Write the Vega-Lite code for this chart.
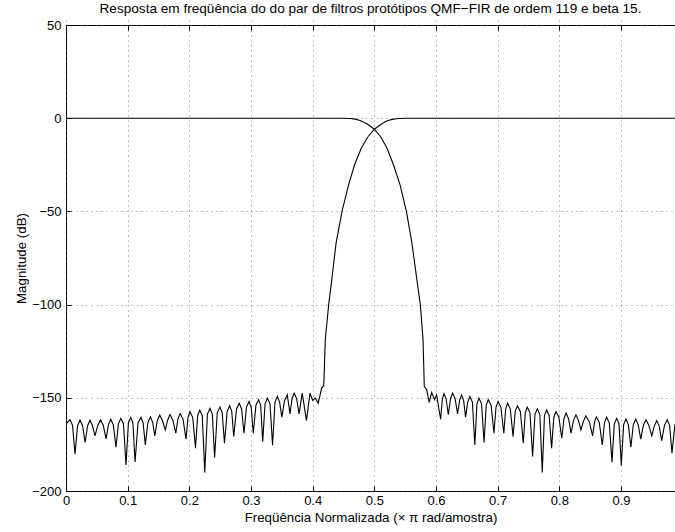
{
  "$schema": "https://vega.github.io/schema/vega-lite/v6.json",
  "autosize": "none",
  "width": 609,
  "height": 466,
  "padding": {"left": 66, "top": 25, "right": 0, "bottom": 41},
  "background": "white",
  "config": {
    "font": "Liberation Sans",
    "view": {"stroke": "black", "strokeWidth": 1},
    "axis": {
      "labelFont": "Liberation Sans",
      "titleFont": "Liberation Sans",
      "labelFontSize": 13,
      "titleFontSize": 13.3,
      "titleFontWeight": "normal",
      "labelColor": "black",
      "titleColor": "black",
      "domain": false,
      "tickColor": "black",
      "tickSize": 5,
      "offset": -5,
      "gridColor": "#555",
      "gridDash": [1, 4],
      "gridOpacity": 0.75
    },
    "title": {"font": "Liberation Sans", "fontSize": 13.6, "fontWeight": "normal", "color": "black"}
  },
  "title": {"text": "Resposta em freqüência do do par de filtros protótipos QMF−FIR de ordem 119 e beta 15.", "anchor": "middle", "offset": 3},
  "datasets": {
    "resp": [
      {"f": 0, "db": 0, "s": "H0"},
      {"f": 0.1, "db": 0, "s": "H0"},
      {"f": 0.2, "db": 0, "s": "H0"},
      {"f": 0.3, "db": 0, "s": "H0"},
      {"f": 0.4, "db": 0, "s": "H0"},
      {"f": 0.45, "db": -0.05, "s": "H0"},
      {"f": 0.461, "db": -0.2, "s": "H0"},
      {"f": 0.469, "db": -0.5, "s": "H0"},
      {"f": 0.477, "db": -1.25, "s": "H0"},
      {"f": 0.488, "db": -3, "s": "H0"},
      {"f": 0.5, "db": -5.9, "s": "H0"},
      {"f": 0.51, "db": -9.8, "s": "H0"},
      {"f": 0.5205, "db": -16, "s": "H0"},
      {"f": 0.531, "db": -25, "s": "H0"},
      {"f": 0.542, "db": -36, "s": "H0"},
      {"f": 0.552, "db": -50, "s": "H0"},
      {"f": 0.561, "db": -67, "s": "H0"},
      {"f": 0.569, "db": -86.6, "s": "H0"},
      {"f": 0.5746, "db": -100, "s": "H0"},
      {"f": 0.579, "db": -118.8, "s": "H0"},
      {"f": 0.581, "db": -143.8, "s": "H0"},
      {"f": 0.585, "db": -145.7, "s": "H0"},
      {"f": 0.589, "db": -152.5, "s": "H0"},
      {"f": 0.593, "db": -147.2, "s": "H0"},
      {"f": 0.5976, "db": -151, "s": "H0"},
      {"f": 0.601, "db": -148.4, "s": "H0"},
      {"f": 0.6075, "db": -161.5, "s": "H0"},
      {"f": 0.6103, "db": -150.8, "s": "H0"},
      {"f": 0.613, "db": -147.8, "s": "H0"},
      {"f": 0.6165, "db": -150.8, "s": "H0"},
      {"f": 0.62, "db": -159.1, "s": "H0"},
      {"f": 0.6235, "db": -150.5, "s": "H0"},
      {"f": 0.627, "db": -147.5, "s": "H0"},
      {"f": 0.631, "db": -150.5, "s": "H0"},
      {"f": 0.635, "db": -158.6, "s": "H0"},
      {"f": 0.6383, "db": -151.4, "s": "H0"},
      {"f": 0.6415, "db": -148.4, "s": "H0"},
      {"f": 0.6448, "db": -151.4, "s": "H0"},
      {"f": 0.648, "db": -160.4, "s": "H0"},
      {"f": 0.6515, "db": -152.3, "s": "H0"},
      {"f": 0.655, "db": -149.3, "s": "H0"},
      {"f": 0.659, "db": -152.3, "s": "H0"},
      {"f": 0.663, "db": -175.3, "s": "H0"},
      {"f": 0.6664, "db": -153.2, "s": "H0"},
      {"f": 0.6697, "db": -150.2, "s": "H0"},
      {"f": 0.6739, "db": -153.2, "s": "H0"},
      {"f": 0.678, "db": -174, "s": "H0"},
      {"f": 0.6814, "db": -154, "s": "H0"},
      {"f": 0.6848, "db": -151, "s": "H0"},
      {"f": 0.6894, "db": -154, "s": "H0"},
      {"f": 0.694, "db": -169, "s": "H0"},
      {"f": 0.6973, "db": -155, "s": "H0"},
      {"f": 0.7005, "db": -152, "s": "H0"},
      {"f": 0.7053, "db": -155, "s": "H0"},
      {"f": 0.71, "db": -169, "s": "H0"},
      {"f": 0.713, "db": -155.9, "s": "H0"},
      {"f": 0.716, "db": -152.9, "s": "H0"},
      {"f": 0.7205, "db": -155.9, "s": "H0"},
      {"f": 0.725, "db": -170.8, "s": "H0"},
      {"f": 0.7285, "db": -157.3, "s": "H0"},
      {"f": 0.732, "db": -154.3, "s": "H0"},
      {"f": 0.7368, "db": -157.3, "s": "H0"},
      {"f": 0.7416, "db": -174.4, "s": "H0"},
      {"f": 0.7448, "db": -158, "s": "H0"},
      {"f": 0.748, "db": -155, "s": "H0"},
      {"f": 0.7524, "db": -158, "s": "H0"},
      {"f": 0.7567, "db": -181.5, "s": "H0"},
      {"f": 0.7605, "db": -158.9, "s": "H0"},
      {"f": 0.7643, "db": -155.9, "s": "H0"},
      {"f": 0.7684, "db": -158.9, "s": "H0"},
      {"f": 0.7724, "db": -190, "s": "H0"},
      {"f": 0.7759, "db": -159.5, "s": "H0"},
      {"f": 0.7794, "db": -156.5, "s": "H0"},
      {"f": 0.7835, "db": -159.5, "s": "H0"},
      {"f": 0.7875, "db": -177, "s": "H0"},
      {"f": 0.7911, "db": -160.4, "s": "H0"},
      {"f": 0.7946, "db": -157.4, "s": "H0"},
      {"f": 0.7993, "db": -160.4, "s": "H0"},
      {"f": 0.804, "db": -171.7, "s": "H0"},
      {"f": 0.8075, "db": -161.2, "s": "H0"},
      {"f": 0.811, "db": -158.2, "s": "H0"},
      {"f": 0.815, "db": -161.2, "s": "H0"},
      {"f": 0.819, "db": -169, "s": "H0"},
      {"f": 0.823, "db": -162.1, "s": "H0"},
      {"f": 0.827, "db": -159.1, "s": "H0"},
      {"f": 0.831, "db": -162.1, "s": "H0"},
      {"f": 0.835, "db": -167.2, "s": "H0"},
      {"f": 0.839, "db": -162.7, "s": "H0"},
      {"f": 0.843, "db": -159.7, "s": "H0"},
      {"f": 0.8485, "db": -162.7, "s": "H0"},
      {"f": 0.854, "db": -170.4, "s": "H0"},
      {"f": 0.857, "db": -163.2, "s": "H0"},
      {"f": 0.86, "db": -160.2, "s": "H0"},
      {"f": 0.8648, "db": -163.2, "s": "H0"},
      {"f": 0.8697, "db": -175.3, "s": "H0"},
      {"f": 0.8732, "db": -163.4, "s": "H0"},
      {"f": 0.8767, "db": -160.4, "s": "H0"},
      {"f": 0.881, "db": -163.4, "s": "H0"},
      {"f": 0.8854, "db": -184.5, "s": "H0"},
      {"f": 0.8892, "db": -164, "s": "H0"},
      {"f": 0.893, "db": -161, "s": "H0"},
      {"f": 0.8968, "db": -164, "s": "H0"},
      {"f": 0.9005, "db": -186.2, "s": "H0"},
      {"f": 0.9043, "db": -164.4, "s": "H0"},
      {"f": 0.908, "db": -161.4, "s": "H0"},
      {"f": 0.912, "db": -164.4, "s": "H0"},
      {"f": 0.916, "db": -176.5, "s": "H0"},
      {"f": 0.92, "db": -164.5, "s": "H0"},
      {"f": 0.924, "db": -161.5, "s": "H0"},
      {"f": 0.928, "db": -164.5, "s": "H0"},
      {"f": 0.932, "db": -172.2, "s": "H0"},
      {"f": 0.9363, "db": -164.8, "s": "H0"},
      {"f": 0.9405, "db": -161.8, "s": "H0"},
      {"f": 0.9453, "db": -164.8, "s": "H0"},
      {"f": 0.95, "db": -170.4, "s": "H0"},
      {"f": 0.954, "db": -165.2, "s": "H0"},
      {"f": 0.958, "db": -162.2, "s": "H0"},
      {"f": 0.962, "db": -165.2, "s": "H0"},
      {"f": 0.966, "db": -173, "s": "H0"},
      {"f": 0.9705, "db": -164.8, "s": "H0"},
      {"f": 0.975, "db": -161.8, "s": "H0"},
      {"f": 0.9789, "db": -164.8, "s": "H0"},
      {"f": 0.9827, "db": -179.7, "s": "H0"},
      {"f": 0.9876, "db": -164, "s": "H0"},
      {"f": 0, "db": -164, "s": "H1"},
      {"f": 0.0065, "db": -161.8, "s": "H1"},
      {"f": 0.0106, "db": -164.8, "s": "H1"},
      {"f": 0.0146, "db": -180.3, "s": "H1"},
      {"f": 0.0187, "db": -165, "s": "H1"},
      {"f": 0.0227, "db": -162, "s": "H1"},
      {"f": 0.0269, "db": -165, "s": "H1"},
      {"f": 0.031, "db": -174, "s": "H1"},
      {"f": 0.035, "db": -165, "s": "H1"},
      {"f": 0.039, "db": -162, "s": "H1"},
      {"f": 0.043, "db": -165, "s": "H1"},
      {"f": 0.047, "db": -170.4, "s": "H1"},
      {"f": 0.0515, "db": -164.8, "s": "H1"},
      {"f": 0.056, "db": -161.8, "s": "H1"},
      {"f": 0.0605, "db": -164.8, "s": "H1"},
      {"f": 0.065, "db": -172, "s": "H1"},
      {"f": 0.0688, "db": -164.5, "s": "H1"},
      {"f": 0.0725, "db": -161.5, "s": "H1"},
      {"f": 0.0768, "db": -164.5, "s": "H1"},
      {"f": 0.081, "db": -176.5, "s": "H1"},
      {"f": 0.085, "db": -164, "s": "H1"},
      {"f": 0.089, "db": -161, "s": "H1"},
      {"f": 0.0932, "db": -164, "s": "H1"},
      {"f": 0.0973, "db": -186, "s": "H1"},
      {"f": 0.1012, "db": -163.5, "s": "H1"},
      {"f": 0.105, "db": -160.5, "s": "H1"},
      {"f": 0.1085, "db": -163.5, "s": "H1"},
      {"f": 0.112, "db": -184.4, "s": "H1"},
      {"f": 0.1168, "db": -163.5, "s": "H1"},
      {"f": 0.1216, "db": -160.5, "s": "H1"},
      {"f": 0.1251, "db": -163.5, "s": "H1"},
      {"f": 0.1286, "db": -175.3, "s": "H1"},
      {"f": 0.1328, "db": -163.2, "s": "H1"},
      {"f": 0.137, "db": -160.2, "s": "H1"},
      {"f": 0.1405, "db": -163.2, "s": "H1"},
      {"f": 0.144, "db": -170.4, "s": "H1"},
      {"f": 0.148, "db": -162.3, "s": "H1"},
      {"f": 0.152, "db": -159.3, "s": "H1"},
      {"f": 0.1565, "db": -162.3, "s": "H1"},
      {"f": 0.161, "db": -167.2, "s": "H1"},
      {"f": 0.1648, "db": -162, "s": "H1"},
      {"f": 0.1686, "db": -159, "s": "H1"},
      {"f": 0.1733, "db": -162, "s": "H1"},
      {"f": 0.178, "db": -169, "s": "H1"},
      {"f": 0.1815, "db": -161.4, "s": "H1"},
      {"f": 0.185, "db": -158.4, "s": "H1"},
      {"f": 0.1898, "db": -161.4, "s": "H1"},
      {"f": 0.1946, "db": -172.2, "s": "H1"},
      {"f": 0.1978, "db": -160.5, "s": "H1"},
      {"f": 0.201, "db": -157.5, "s": "H1"},
      {"f": 0.2055, "db": -160.5, "s": "H1"},
      {"f": 0.21, "db": -177, "s": "H1"},
      {"f": 0.2135, "db": -159.6, "s": "H1"},
      {"f": 0.217, "db": -156.6, "s": "H1"},
      {"f": 0.221, "db": -159.6, "s": "H1"},
      {"f": 0.225, "db": -190, "s": "H1"},
      {"f": 0.2293, "db": -158.7, "s": "H1"},
      {"f": 0.2335, "db": -155.7, "s": "H1"},
      {"f": 0.2373, "db": -158.7, "s": "H1"},
      {"f": 0.241, "db": -182, "s": "H1"},
      {"f": 0.2453, "db": -158, "s": "H1"},
      {"f": 0.2497, "db": -155, "s": "H1"},
      {"f": 0.2533, "db": -158, "s": "H1"},
      {"f": 0.257, "db": -174.4, "s": "H1"},
      {"f": 0.2613, "db": -157.3, "s": "H1"},
      {"f": 0.2655, "db": -154.3, "s": "H1"},
      {"f": 0.2688, "db": -157.3, "s": "H1"},
      {"f": 0.272, "db": -170.8, "s": "H1"},
      {"f": 0.2765, "db": -156, "s": "H1"},
      {"f": 0.281, "db": -153, "s": "H1"},
      {"f": 0.2848, "db": -156, "s": "H1"},
      {"f": 0.2886, "db": -169, "s": "H1"},
      {"f": 0.2927, "db": -155, "s": "H1"},
      {"f": 0.2968, "db": -152, "s": "H1"},
      {"f": 0.3003, "db": -155, "s": "H1"},
      {"f": 0.3037, "db": -169, "s": "H1"},
      {"f": 0.308, "db": -154, "s": "H1"},
      {"f": 0.3124, "db": -151, "s": "H1"},
      {"f": 0.3157, "db": -154, "s": "H1"},
      {"f": 0.319, "db": -173.5, "s": "H1"},
      {"f": 0.3228, "db": -153.2, "s": "H1"},
      {"f": 0.3265, "db": -150.2, "s": "H1"},
      {"f": 0.3308, "db": -153.2, "s": "H1"},
      {"f": 0.335, "db": -175.4, "s": "H1"},
      {"f": 0.3389, "db": -152.3, "s": "H1"},
      {"f": 0.3427, "db": -149.3, "s": "H1"},
      {"f": 0.3464, "db": -152.3, "s": "H1"},
      {"f": 0.35, "db": -160.4, "s": "H1"},
      {"f": 0.3545, "db": -151.4, "s": "H1"},
      {"f": 0.3589, "db": -148.4, "s": "H1"},
      {"f": 0.3632, "db": -158.6, "s": "H1"},
      {"f": 0.3666, "db": -150.5, "s": "H1"},
      {"f": 0.37, "db": -147.5, "s": "H1"},
      {"f": 0.374, "db": -150.5, "s": "H1"},
      {"f": 0.378, "db": -158.6, "s": "H1"},
      {"f": 0.383, "db": -147.5, "s": "H1"},
      {"f": 0.39, "db": -162.2, "s": "H1"},
      {"f": 0.3957, "db": -147.5, "s": "H1"},
      {"f": 0.4, "db": -151.4, "s": "H1"},
      {"f": 0.4043, "db": -150.2, "s": "H1"},
      {"f": 0.409, "db": -152.9, "s": "H1"},
      {"f": 0.4146, "db": -144.8, "s": "H1"},
      {"f": 0.418, "db": -143.5, "s": "H1"},
      {"f": 0.4205, "db": -118.8, "s": "H1"},
      {"f": 0.426, "db": -100, "s": "H1"},
      {"f": 0.431, "db": -86.6, "s": "H1"},
      {"f": 0.438, "db": -67, "s": "H1"},
      {"f": 0.4476, "db": -50, "s": "H1"},
      {"f": 0.458, "db": -36, "s": "H1"},
      {"f": 0.468, "db": -25, "s": "H1"},
      {"f": 0.479, "db": -16, "s": "H1"},
      {"f": 0.49, "db": -9.8, "s": "H1"},
      {"f": 0.5, "db": -5.9, "s": "H1"},
      {"f": 0.512, "db": -3, "s": "H1"},
      {"f": 0.522, "db": -1.25, "s": "H1"},
      {"f": 0.531, "db": -0.5, "s": "H1"},
      {"f": 0.539, "db": -0.2, "s": "H1"},
      {"f": 0.55, "db": -0.05, "s": "H1"},
      {"f": 0.6, "db": 0, "s": "H1"},
      {"f": 0.7, "db": 0, "s": "H1"},
      {"f": 0.8, "db": 0, "s": "H1"},
      {"f": 0.9, "db": 0, "s": "H1"},
      {"f": 0.9876, "db": 0, "s": "H1"}
    ]
  },
  "data": {"name": "resp"},
  "layer": [
    {
      "mark": {"type": "line", "color": "black", "strokeWidth": 1.1, "clip": true},
      "encoding": {
        "x": {
          "field": "f", "type": "quantitative",
          "scale": {"domain": [0, 0.9876], "nice": false, "zero": false},
          "axis": {"values": [0, 0.1, 0.2, 0.3, 0.4, 0.5, 0.6, 0.7, 0.8, 0.9], "format": "~g", "grid": true, "labelPadding": 3, "title": "Freqüência Normalizada (× π rad/amostra)", "titlePadding": 3, "labelFlush": false}
        },
        "y": {
          "field": "db", "type": "quantitative",
          "scale": {"domain": [-200, 50], "nice": false, "zero": false},
          "axis": {"values": [-200, -150, -100, -50, 0, 50], "grid": true, "labelPadding": 5, "title": "Magnitude (dB)", "titlePadding": 3, "labelFlush": false}
        },
        "detail": {"field": "s"}
      }
    },
    {
      "mark": {"type": "line", "strokeOpacity": 0},
      "encoding": {
        "x": {
          "field": "f", "type": "quantitative",
          "scale": {"domain": [0, 0.9876], "nice": false, "zero": false},
          "axis": {"orient": "top", "values": [0, 0.1, 0.2, 0.3, 0.4, 0.5, 0.6, 0.7, 0.8, 0.9], "labels": false, "grid": false, "title": null}
        },
        "y": {"field": "db", "type": "quantitative"},
        "detail": {"field": "s"}
      }
    }
  ],
  "resolve": {"axis": {"x": "independent"}}
}
